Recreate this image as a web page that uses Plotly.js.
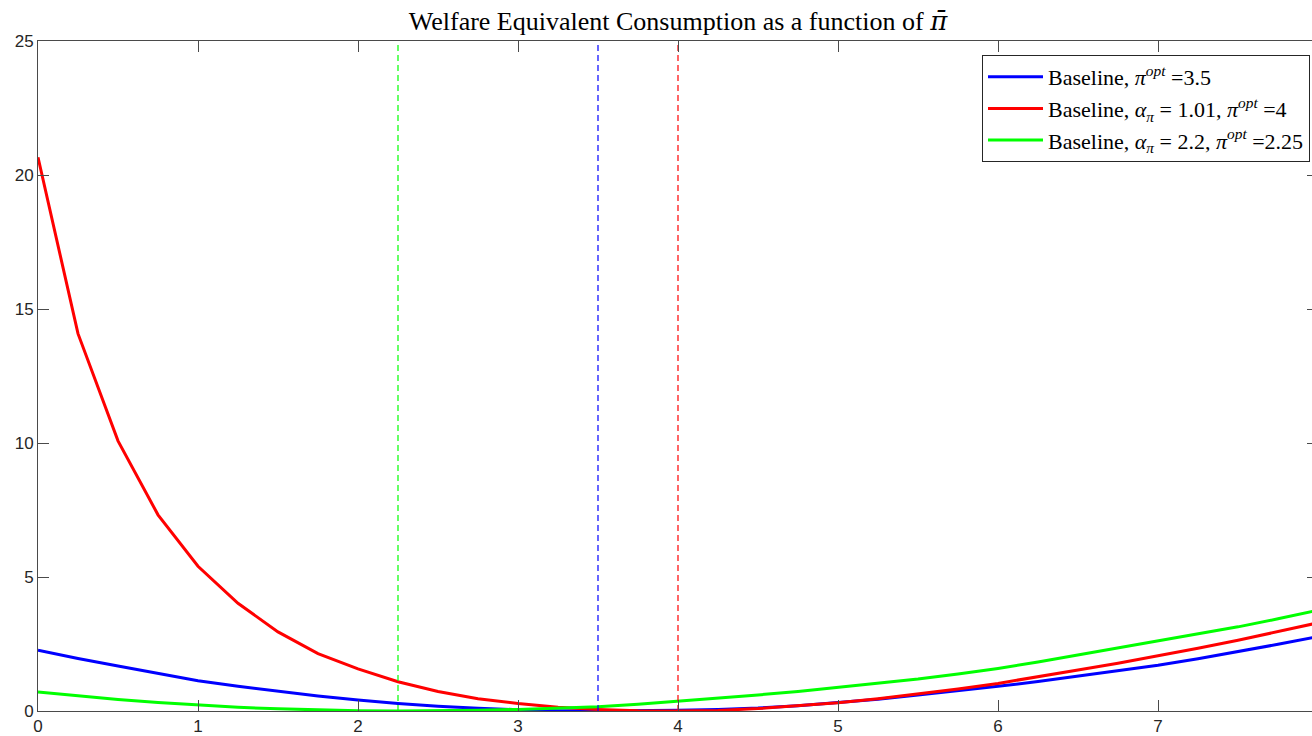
<!DOCTYPE html>
<html>
<head>
<meta charset="utf-8">
<script src="https://cdn.plot.ly/plotly-3.0.1.min.js"></script>
<style>
html,body{margin:0;padding:0;overflow:hidden;background:#fff;}
#chart{width:1320px;height:736px;}
</style>
</head>
<body>
<div id="chart"></div>
<script>
// inflation target grid
const piBar = [0,0.25,0.5,0.75,1,1.25,1.5,1.75,2,2.25,2.5,2.75,3,3.25,3.5,3.75,4,4.25,4.5,4.75,5,5.25,5.5,5.75,6,6.25,6.5,6.75,7,7.25,7.5,7.75,8];

// Baseline, pi_opt = 3.5
const wecBaseline = [2.27,1.96,1.68,1.41,1.13,0.92,0.73,0.56,0.41,0.28,0.18,0.10,0.05,0.01,0.00,0.01,0.03,0.06,0.11,0.20,0.31,0.44,0.60,0.75,0.92,1.10,1.30,1.50,1.71,1.95,2.21,2.49,2.78];

// Baseline, alpha_pi = 1.01, pi_opt = 4
const wecAlpha101 = [20.66,14.08,10.08,7.32,5.40,4.02,2.95,2.14,1.57,1.09,0.73,0.46,0.28,0.14,0.06,0.01,0.00,0.02,0.09,0.19,0.31,0.46,0.63,0.82,1.03,1.27,1.53,1.78,2.05,2.34,2.64,2.96,3.29];

// Baseline, alpha_pi = 2.2, pi_opt = 2.25
const wecAlpha22 = [0.71,0.56,0.43,0.32,0.23,0.14,0.08,0.035,0.01,0.00,0.01,0.03,0.06,0.10,0.16,0.25,0.36,0.47,0.60,0.73,0.88,1.03,1.19,1.38,1.59,1.83,2.09,2.35,2.62,2.87,3.14,3.44,3.76];

// optimal inflation for each series
const piOpt = [3.5, 4, 2.25];

const seriesNames = [
  'Baseline, <i>π</i><sup><i>opt</i></sup> =3.5',
  'Baseline, <i>α</i><sub><i>π</i></sub> = 1.01, <i>π</i><sup><i>opt</i></sup> =4',
  'Baseline, <i>α</i><sub><i>π</i></sub> = 2.2, <i>π</i><sup><i>opt</i></sup> =2.25'
];
const seriesColors = ['#0000ff', '#ff0000', '#00ff00'];
const seriesValues = [wecBaseline, wecAlpha101, wecAlpha22];

const xTicks = [0,1,2,3,4,5,6,7];
const yTicks = [0,5,10,15,20,25];
const xRange = [0, 8];
const yRange = [0, 25];

const traces = [];
seriesValues.forEach((vals, i) => {
  traces.push({
    x: piBar, y: vals, type: 'scatter', mode: 'lines',
    name: seriesNames[i],
    line: {color: seriesColors[i], width: 3},
    hoverinfo: 'skip'
  });
});
piOpt.forEach((p, i) => {
  traces.push({
    x: [p, p], y: yRange, type: 'scatter', mode: 'lines',
    showlegend: false,
    line: {color: seriesColors[i], width: 1.2, dash: '6px,4px'},
    hoverinfo: 'skip'
  });
});

const axisColor = '#4a4a4a';
const tickFont = {family: 'Liberation Sans, Arial, sans-serif', size: 17, color: '#262626'};
const serif = 'Liberation Serif, Times New Roman, serif';

const layout = {
  width: 1320, height: 736,
  margin: {l: 38, r: 2, t: 41, b: 25},
  paper_bgcolor: '#ffffff', plot_bgcolor: '#ffffff',
  title: {
    text: 'Welfare Equivalent Consumption as a function of <span style="font-family:DejaVu Serif"><i>π̄</i></span>',
    font: {family: serif, size: 26, color: '#000000'},
    x: 0.5, xref: 'paper', xanchor: 'center',
    y: 1 - 21/736, yref: 'container', yanchor: 'middle'
  },
  showlegend: true,
  legend: {
    x: 0.99375, y: 0.979, xanchor: 'right', yanchor: 'top',
    bgcolor: '#ffffff', bordercolor: '#262626', borderwidth: 1,
    font: {family: serif, size: 22, color: '#000000'},
    itemwidth: 55,
    tracegroupgap: 0
  },
  xaxis: {
    range: xRange, tickvals: xTicks, ticktext: xTicks.map(String),
    showgrid: false, zeroline: false,
    showline: true, linecolor: axisColor, linewidth: 1, mirror: 'ticks',
    ticks: 'inside', ticklen: 11, tickcolor: axisColor, tickwidth: 1,
    tickfont: tickFont
  },
  yaxis: {
    range: yRange, tickvals: yTicks, ticktext: yTicks.map(String),
    showgrid: false, zeroline: false,
    showline: true, linecolor: axisColor, linewidth: 1, mirror: 'ticks',
    ticks: 'inside', ticklen: 11, tickcolor: axisColor, tickwidth: 1,
    tickfont: tickFont
  }
};

Plotly.newPlot('chart', traces, layout, {displayModeBar: false, staticPlot: true});
</script>
</body>
</html>
